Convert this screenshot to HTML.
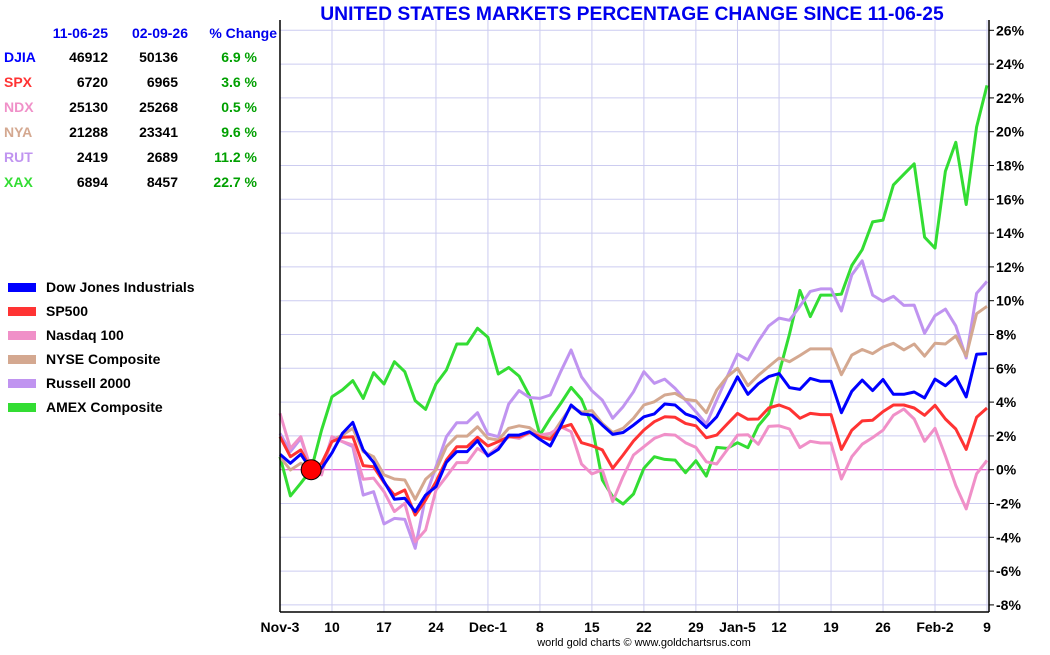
<!DOCTYPE html>
<html><head><meta charset="utf-8"><style>
body{margin:0;background:#fff;font-family:"Liberation Sans",sans-serif;}
svg text{font-family:"Liberation Sans",sans-serif;font-weight:bold;}
</style></head><body>
<svg id="c" width="1050" height="650" xmlns="http://www.w3.org/2000/svg">
<text x="632" y="20" text-anchor="middle" font-size="19.3" fill="#0000ee">UNITED STATES MARKETS PERCENTAGE CHANGE SINCE 11-06-25</text>
<g id="grid"></g><g id="series"></g><g id="axes"></g><g id="table"></g><g id="legend"></g>
<text x="644" y="646" text-anchor="middle" font-size="11" style="font-weight:normal" fill="#000">world gold charts © www.goldchartsrus.com</text>
</svg>
<script>
const xLabels=["Nov-3","10","17","24","Dec-1","8","15","22","29","Jan-5","12","19","26","Feb-2","9"];
const xLabelIdx=[0,5,10,15,20,25,30,35,40,44,48,53,58,63,68];
const yTicks=[26,24,22,20,18,16,14,12,10,8,6,4,2,0,-2,-4,-6,-8];
const names=["Dow Jones Industrials","SP500","Nasdaq 100","NYSE Composite","Russell 2000","AMEX Composite"];
const tickers=["DJIA","SPX","NDX","NYA","RUT","XAX"];
const startVals=[46912,6720,25130,21288,2419,6894];
const endVals=[50136,6965,25268,23341,2689,8457];
const pctChange=["6.9 %","3.6 %","0.5 %","9.6 %","11.2 %","22.7 %"];
const colors=["#0000ff","#ff3333","#f090c8","#d4a890","#c094f0","#33dd33"];
const djia=[0.91,0.38,0.91,0,0.08,1.0,2.15,2.8,1.17,0.44,-0.7,-1.75,-1.69,-2.48,-1.5,-1.0,0.44,1.07,1.07,1.72,0.81,1.2,2.05,2.05,2.25,1.79,1.4,2.58,3.83,3.3,3.23,2.64,2.09,2.2,2.64,3.13,3.3,3.89,3.83,3.3,3.08,2.49,3.13,4.3,5.5,4.46,5.08,5.51,5.69,4.86,4.75,5.4,5.23,5.23,3.37,4.64,5.3,4.68,5.34,4.46,4.46,4.6,4.25,5.36,4.97,5.51,4.31,6.83,6.87];
const spx=[1.95,0.77,1.17,0,0.38,1.66,1.92,1.95,0.24,0.18,-0.76,-1.5,-1.2,-2.68,-1.79,-0.71,0.57,1.36,1.36,1.92,1.4,1.66,1.95,1.95,2.2,1.95,1.79,2.49,2.68,1.6,1.42,1.17,0.08,0.87,1.7,2.35,2.84,3.13,3.1,2.74,2.6,1.89,2.05,2.7,3.33,2.98,3.0,3.65,3.83,3.6,3.04,3.33,3.26,3.26,1.2,2.34,2.89,2.93,3.44,3.83,3.83,3.65,3.22,3.81,3.0,2.41,1.2,3.1,3.65];
const ndx=[3.34,1.26,1.95,0,-0.31,1.95,1.66,1.46,-0.57,-0.5,-1.3,-2.48,-1.99,-4.26,-3.57,-1.2,-0.41,0.42,0.42,1.26,0.87,1.36,1.95,1.85,2.19,2.05,2.15,2.54,2.25,0.34,-0.25,-0.02,-1.89,-0.41,0.87,1.36,1.85,2.09,2.05,1.6,1.32,0.47,0.34,1.17,2.05,2.07,1.5,2.56,2.6,2.41,1.31,1.68,1.58,1.58,-0.55,0.77,1.51,1.9,2.34,3.22,3.59,3.0,1.68,2.45,0.81,-0.94,-2.32,-0.24,0.55];
const nya=[0.77,-0.02,0.38,0,-0.02,1.76,2.05,2.45,1.07,0.77,-0.31,-0.55,-0.61,-1.75,-0.57,-0.02,1.36,1.99,1.99,2.54,1.85,1.76,2.45,2.6,2.49,2.05,1.92,2.84,3.73,3.4,3.5,2.74,2.2,2.45,3.04,3.83,4.02,4.42,4.52,4.16,4.08,3.37,4.71,5.5,6.0,4.97,5.58,6.1,6.61,6.39,6.76,7.15,7.15,7.15,5.62,6.78,7.11,6.87,7.26,7.48,7.09,7.44,6.72,7.48,7.44,7.92,6.72,9.23,9.67];
const rut=[2.15,1.07,1.85,0,-0.02,1.95,1.66,1.36,-1.5,-1.3,-3.21,-2.88,-2.94,-4.65,-1.6,0.18,1.95,2.78,2.78,3.37,2.11,1.95,3.88,4.68,4.27,4.22,4.42,5.8,7.08,5.5,4.67,4.12,3.04,3.73,4.61,5.8,5.11,5.36,4.81,4.12,3.43,2.7,4.12,5.5,6.84,6.5,7.6,8.51,8.97,8.84,9.67,10.55,10.7,10.7,9.39,11.53,12.36,10.33,9.96,10.26,9.72,9.74,8.07,9.12,9.5,8.51,6.61,10.44,11.14];
const xax=[0.77,-1.55,-0.8,0,2.35,4.32,4.72,5.27,4.22,5.74,5.07,6.39,5.8,4.08,3.57,5.07,5.9,7.44,7.44,8.37,7.84,5.66,6.05,5.54,4.37,2.05,3.04,3.92,4.87,4.16,2.64,-0.61,-1.6,-2.03,-1.44,0.08,0.77,0.61,0.57,-0.18,0.53,-0.38,1.32,1.26,1.6,1.3,2.6,3.33,5.73,8.03,10.61,9.06,10.33,10.33,10.39,12.08,13.02,14.66,14.77,16.85,17.48,18.1,13.76,13.11,17.66,19.37,15.69,20.28,22.74];
const seriesData=[djia,spx,ndx,nya,rut,xax];
const NS="http://www.w3.org/2000/svg";
const X0=280,X1=989,Y0=612,YT=20,N=69;
const xs=i=>X0+i*(X1-2-X0)/(N-1);
const ys=v=>469.7-v*16.9;
function mk(tag,attrs,parent,text){const e=document.createElementNS(NS,tag);for(const k in attrs)e.setAttribute(k,attrs[k]);if(text!==undefined)e.textContent=text;parent.appendChild(e);return e;}
const grid=document.getElementById('grid'),axes=document.getElementById('axes'),ser=document.getElementById('series');
yTicks.forEach(t=>{
 const l=mk('line',{x1:X0,x2:X1,y1:ys(t),y2:ys(t),stroke:t===0?'#dd33cc':'#ccccf0','stroke-width':1},grid);
 
 
 const tk=mk('line',{x1:X1,x2:X1+5,y1:ys(t),y2:ys(t),stroke:'#000'},axes);
 
 
 const tx=mk('text',{x:X1+7,y:ys(t)+5,'font-size':14,fill:'#000'},axes,t+'%');
 
 
});
xLabelIdx.forEach((idx,k)=>{
 const l=mk('line',{x1:xs(idx),x2:xs(idx),y1:YT,y2:Y0,stroke:'#ccccf0','stroke-width':1},grid);
 
 
 const tx=mk('text',{x:xs(idx),y:632,'font-size':14,'text-anchor':'middle',fill:'#000'},axes,xLabels[k]);
 
 
});
const ax1=mk('line',{x1:X0,x2:X0,y1:YT,y2:Y0,stroke:'#000','stroke-width':1.5},axes);


const ax2=mk('line',{x1:X1,x2:X1,y1:YT,y2:Y0,stroke:'#000','stroke-width':1.5},axes);


const ax3=mk('line',{x1:X0,x2:X1,y1:Y0,y2:Y0,stroke:'#000','stroke-width':1.5},axes);


[5,4,3,2,1,0].forEach(s=>{
 const pts=seriesData[s].map((v,i)=>xs(i).toFixed(1)+','+ys(v).toFixed(1)).join(' ');
 const p=mk('polyline',{points:pts,fill:'none',stroke:colors[s],'stroke-width':3,'stroke-linejoin':'round'},ser);
 
 
});
const dot=mk('circle',{cx:xs(3),cy:ys(0),r:10,fill:'#ff0000',stroke:'#000','stroke-width':1},ser);


const tb=document.getElementById('table');
[["11-06-25",108],["02-09-26",188],["% Change",277]].forEach(h=>{
 const t=mk('text',{x:h[1],y:38,'font-size':14,'text-anchor':'end',fill:'#0000ee'},tb,h[0]);
 
 
});
tickers.forEach((tk,r)=>{
 const y=62+r*25;
 const a=mk('text',{x:4,y:y,'font-size':14,fill:colors[r]},tb,tk);
 
 
 const b=mk('text',{x:108,y:y,'font-size':14,'text-anchor':'end',fill:'#000'},tb,startVals[r]);
 
 
 const c=mk('text',{x:178,y:y,'font-size':14,'text-anchor':'end',fill:'#000'},tb,endVals[r]);
 
 
 const d=mk('text',{x:257,y:y,'font-size':14,'text-anchor':'end',fill:'#00a000'},tb,pctChange[r]);
 
 
});
const lg=document.getElementById('legend');
names.forEach((n,r)=>{
 const y=287+r*24;
 const s=mk('rect',{x:8,y:y-4,width:28,height:9,fill:colors[r]},lg);
 
 
 const t=mk('text',{x:46,y:y+5,'font-size':14,fill:'#000'},lg,n);
 
 
});
</script>
</body></html>
